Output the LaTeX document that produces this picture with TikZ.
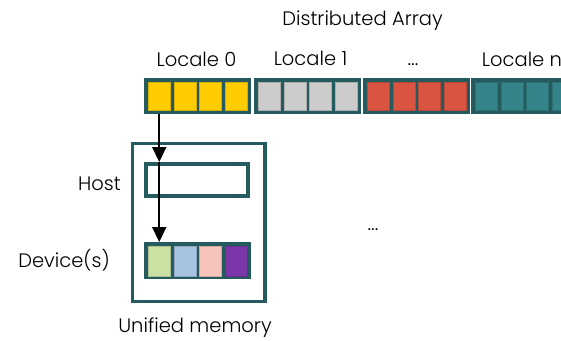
\documentclass[tikz,border=0pt]{standalone}
\usepackage{fontspec}
\setmainfont{Poppins}[UprightFont = * Light]
\usetikzlibrary{arrows.meta}
\definecolor{frame}{HTML}{255B5F}
\definecolor{cyel}{HTML}{FFCC00}
\definecolor{cgray}{HTML}{CCCCCC}
\definecolor{cred}{HTML}{D95542}
\definecolor{cteal}{HTML}{358489}
\definecolor{cgreen}{HTML}{C9E2A3}
\definecolor{cblue}{HTML}{A6C3E0}
\definecolor{cpink}{HTML}{F7C4BB}
\definecolor{cpurple}{HTML}{7B37A9}
\begin{document}
\begin{tikzpicture}[x=1pt,y=-1pt,
  lbl/.style={inner sep=0pt, font=\fontsize{19.5}{23}\selectfont, anchor=base, text=black},
  blockbox/.style={fill=frame, draw=none, minimum width=107pt, minimum height=36pt, inner sep=0pt, anchor=north west},
  cellbox/.style={minimum width=22pt, minimum height=28pt, inner sep=0pt, anchor=north west, draw=#1!85!black, line width=0.5pt, fill=#1},
  framebox/.style={draw=frame, fill=none, inner sep=0pt, anchor=north west},
  arr/.style={line width=2.2pt, black, -{Triangle[width=14pt,length=15pt]}}]
\useasboundingbox (0,0) rectangle (561,340);
\clip (0,0) rectangle (561,340);
% distributed array blocks
\foreach \b/\x/\col in {0/144/cyel,1/254/cgray,2/363/cred,3/471/cteal}{
  \node[blockbox] (blk\b) at (\x,78) {};
  \foreach \k in {0,1,2,3}{
    \node[cellbox=\col] (c\b-\k) at ({\x+4+\k*25.67},82) {};
  }
}
% labels
\node[lbl] (title) at (362.5,25) {Distributed Array};
\node[lbl] (l0) at (196.5,66) {Locale 0};
\node[lbl] (l1) at (310.5,65) {Locale 1};
\node[lbl] (ld) at (413,65) {...};
\node[lbl, anchor=base west] (ln) at (481.7,66) {Locale n};
% unified memory
\node[framebox, line width=3.3pt, minimum width=132.4pt, minimum height=157.8pt] (mem) at (131,142) {};
\node[framebox, line width=4pt, minimum width=102pt, minimum height=32pt] (host) at (144,162) {};
\node[blockbox, minimum height=37pt] (dev) at (144,242) {};
\foreach \k/\col in {0/cgreen,1/cblue,2/cpink,3/cpurple}{
  \node[cellbox=\col, minimum height=29.5pt] (d-\k) at ({148+\k*25.67},246) {};
}
\node[lbl] (hostl) at (99.5,190) {Host};
\node[lbl] (devl) at (64,267) {Device(s)};
\node[lbl] (meml) at (195,332) {Unified memory};
\node[lbl] (dots) at (373,230) {...};
% arrows
\coordinate (a0) at (c0-0.south |- blk0.south);
\coordinate (a1) at (c0-0.south |- host.north);
\coordinate (a2) at (c0-0.south |- dev.north);
\draw[arr] (a0) -- (a1);
\draw[arr] (a1) -- (a2);
\end{tikzpicture}
\end{document}
